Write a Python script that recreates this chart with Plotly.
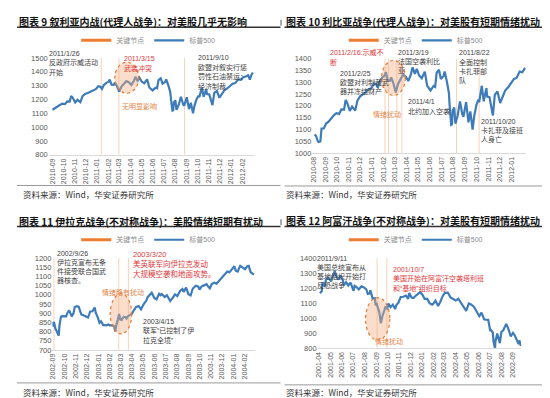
import plotly.graph_objects as go

# ---------------- data ----------------
# S&P 500 2010-2012 (read from panels 9 and 10)
spx_a_dates = ["2010-08-16","2010-08-20","2010-08-24","2010-08-26","2010-08-31","2010-09-03","2010-09-09","2010-09-13",
 "2010-09-15","2010-09-22","2010-09-28","2010-10-05","2010-10-12","2010-10-19","2010-10-25","2010-11-01","2010-11-05",
 "2010-11-09","2010-11-16","2010-11-22","2010-11-30","2010-12-06","2010-12-13","2010-12-20","2010-12-27","2011-01-04",
 "2011-01-11","2011-01-18","2011-01-24","2011-01-28","2011-02-02","2011-02-09","2011-02-15","2011-02-18","2011-02-23",
 "2011-03-01","2011-03-04","2011-03-10","2011-03-16","2011-03-22","2011-03-28","2011-04-04","2011-04-11","2011-04-18",
 "2011-04-25","2011-04-29","2011-05-05","2011-05-10","2011-05-16","2011-05-23","2011-05-31","2011-06-06","2011-06-15",
 "2011-06-20","2011-06-23","2011-06-27","2011-07-01","2011-07-07","2011-07-12","2011-07-19","2011-07-22","2011-07-28",
 "2011-08-02","2011-08-04","2011-08-08","2011-08-10","2011-08-12","2011-08-16","2011-08-19","2011-08-25","2011-08-31",
 "2011-09-06","2011-09-09","2011-09-16","2011-09-22","2011-09-27","2011-10-03","2011-10-07","2011-10-13","2011-10-18",
 "2011-10-20","2011-10-27","2011-11-01","2011-11-08","2011-11-10","2011-11-16","2011-11-25","2011-11-30","2011-12-07",
 "2011-12-14","2011-12-20","2011-12-27","2012-01-05","2012-01-12","2012-01-19","2012-01-26","2012-02-03","2012-02-10",
 "2012-02-17","2012-02-24","2012-03-01","2012-03-06","2012-03-09","2012-03-14"]
spx_a_vals = [1079,1071,1051,1047,1049,1104,1104,1122,
 1125,1134,1147,1160,1169,1166,1185,1184,1225,
 1213,1178,1197,1180,1223,1240,1247,1257,1270,
 1274,1295,1291,1276,1304,1320,1328,1343,1307,
 1306,1321,1295,1257,1293,1310,1332,1324,1305,
 1335,1363,1335,1357,1329,1317,1345,1286,1265,
 1278,1284,1280,1340,1353,1314,1327,1345,1300,
 1254,1200,1119,1121,1179,1193,1124,1160,1219,
 1165,1154,1216,1130,1176,1099,1155,1204,1226,
 1215,1285,1219,1275,1239,1237,1159,1247,1261,
 1212,1241,1265,1281,1295,1314,1318,1345,1342,
 1361,1366,1374,1343,1371,1395]

spx_b_dates = ["2001-04-11","2001-04-16","2001-04-18","2001-04-24","2001-04-27","2001-05-02","2001-05-08","2001-05-11",
 "2001-05-16","2001-05-21","2001-05-25","2001-05-31","2001-06-05","2001-06-11","2001-06-14","2001-06-20","2001-06-26",
 "2001-07-02","2001-07-10","2001-07-13","2001-07-18","2001-07-24","2001-07-31","2001-08-07","2001-08-13","2001-08-17",
 "2001-08-22","2001-08-24","2001-08-30","2001-09-05","2001-09-07","2001-09-10","2001-09-17","2001-09-21","2001-09-25",
 "2001-09-28","2001-10-03","2001-10-08","2001-10-11","2001-10-17","2001-10-23","2001-10-29","2001-11-01","2001-11-07",
 "2001-11-13","2001-11-20","2001-11-27","2001-12-03","2001-12-06","2001-12-12","2001-12-17","2001-12-21","2001-12-28",
 "2002-01-04","2002-01-10","2002-01-16","2002-01-23","2002-01-29","2002-02-05","2002-02-08","2002-02-14","2002-02-21",
 "2002-02-27","2002-03-05","2002-03-11","2002-03-19","2002-03-26","2002-04-02","2002-04-09","2002-04-16","2002-04-23",
 "2002-04-30","2002-05-07","2002-05-14","2002-05-20","2002-05-28","2002-06-04","2002-06-11","2002-06-17","2002-06-24",
 "2002-06-28","2002-07-05","2002-07-10","2002-07-12","2002-07-17","2002-07-19","2002-07-23","2002-07-24","2002-07-29",
 "2002-08-02","2002-08-05","2002-08-09","2002-08-14","2002-08-22","2002-08-27","2002-09-03","2002-09-09","2002-09-13",
 "2002-09-20","2002-09-24","2002-09-26","2002-09-30","2002-10-04","2002-10-09","2002-10-11","2002-10-15","2002-10-18",
 "2002-10-24","2002-10-29","2002-11-01","2002-11-06","2002-11-13","2002-11-18","2002-11-21","2002-11-27","2002-12-02",
 "2002-12-09","2002-12-13","2002-12-19","2002-12-27","2003-01-02","2003-01-08","2003-01-14","2003-01-17","2003-01-22",
 "2003-01-27","2003-01-31","2003-02-06","2003-02-10","2003-02-14","2003-02-20","2003-02-24","2003-03-03","2003-03-07",
 "2003-03-11","2003-03-13","2003-03-17","2003-03-21","2003-03-24","2003-03-28","2003-04-02","2003-04-07","2003-04-10",
 "2003-04-15","2003-04-21","2003-04-25","2003-04-30","2003-05-06","2003-05-13","2003-05-19","2003-05-27","2003-06-02",
 "2003-06-06","2003-06-12","2003-06-17","2003-06-24","2003-06-30","2003-07-07","2003-07-11","2003-07-14","2003-07-22",
 "2003-07-28","2003-08-01","2003-08-06","2003-08-13","2003-08-19","2003-08-25","2003-09-02","2003-09-08","2003-09-11",
 "2003-09-18","2003-09-24","2003-09-30","2003-10-06","2003-10-14","2003-10-21","2003-10-24","2003-10-30","2003-11-05",
 "2003-11-12","2003-11-17","2003-11-21","2003-11-26","2003-12-03","2003-12-09","2003-12-16","2003-12-22","2003-12-31",
 "2004-01-07","2004-01-13","2004-01-20","2004-01-26","2004-01-30","2004-02-04","2004-02-11","2004-02-18","2004-02-24",
 "2004-03-01","2004-03-05","2004-03-10","2004-03-16","2004-03-19"]
spx_b_vals = [1166,1179,1238,1210,1254,1268,1256,1245,
 1284,1312,1278,1256,1284,1255,1220,1240,1217,
 1236,1182,1215,1207,1191,1211,1204,1192,1161,
 1165,1185,1130,1132,1085,1093,1039,966,1013,
 1041,1072,1063,1097,1073,1090,1060,1085,1103,
 1140,1142,1150,1129,1167,1137,1134,1144,1162,
 1173,1156,1128,1128,1100,1090,1096,1116,1081,
 1109,1146,1168,1170,1138,1127,1117,1129,1100,
 1077,1049,1098,1091,1074,1040,1013,1037,992,
 990,989,920,921,906,847,797,843,898,
 865,834,908,919,962,934,878,902,889,
 850,828,852,815,800,777,835,881,884,
 882,882,900,915,882,900,933,938,934,
 892,890,883,876,909,910,931,901,878,
 848,856,835,835,834,838,833,835,829,
 800,832,862,895,865,863,880,879,871,
 885,892,898,917,934,939,921,951,967,
 987,998,1011,983,975,1005,998,1004,988,
 997,980,966,984,1002,993,1022,1031,1016,
 1039,1003,996,1034,1049,1044,1028,1046,1051,
 1058,1043,1035,1058,1065,1060,1076,1092,1112,
 1126,1122,1139,1155,1131,1126,1157,1147,1139,
 1155,1157,1123,1110,1109]

# data windows shown in each panel
p1_window = ("2010-09-15", "2012-03-14")
p2_window = ("2010-08-16", "2012-02-17")
p3_window = ("2002-09-20", "2004-03-19")
p4_window = ("2001-04-11", "2002-09-30")

# key nodes (关键节点)
p1_nodes = ["2011-01-26", "2011-03-15", "2011-09-10"]
p2_nodes = ["2011-02-16", "2011-02-25", "2011-03-19", "2011-04-01", "2011-08-22", "2011-10-20"]
p3_nodes = ["2002-09-26", "2003-03-20", "2003-04-15"]
p4_nodes = ["2001-09-11", "2001-10-07"]

# tick labels
p1_ticks = ["2010-09","2010-10","2010-11","2010-12","2011-01","2011-02","2011-03","2011-04","2011-05",
            "2011-06","2011-07","2011-08","2011-09","2011-10","2011-11","2011-12","2012-01","2012-02"]
p2_ticks = ["2010-08","2010-09","2010-10","2010-11","2010-12","2011-01","2011-02","2011-03","2011-04",
            "2011-05","2011-06","2011-07","2011-08","2011-09","2011-10","2011-11","2011-12","2012-01"]
p3_ticks = ["2002-09","2002-10","2002-11","2002-12","2003-01","2003-02","2003-03","2003-04","2003-05",
            "2003-06","2003-07","2003-08","2003-09","2003-10","2003-11","2003-12","2004-01","2004-02"]
p4_ticks = ["2001-04","2001-05","2001-06","2001-07","2001-08","2001-09","2001-10","2001-11","2001-12",
            "2002-01","2002-02","2002-03","2002-04","2002-05","2002-06","2002-07","2002-08","2002-09"]

titles = ["图表 9 叙利亚内战(代理人战争)：对美股几乎无影响",
          "图表 10 利比亚战争(代理人战争)：对美股有短期情绪扰动",
          "图表 11 伊拉克战争(不对称战争)：美股情绪短期有扰动",
          "图表 12 阿富汗战争(不对称战争)：对美股有短期情绪扰动"]
source_text = "资料来源：Wind，华安证券研究所"

# ---------------- style / layout ----------------
W, H = 550, 398
FONT = "Liberation Sans, Noto Sans CJK SC, sans-serif"
CJK = "Noto Sans CJK SC, sans-serif"
BLUE = "#3E7CB9"
ORANGE = "#ED7D31"
NODE = "#F9D2B6"
RED = "#E0383A"
OTXT = "#E38346"
DARK = "#404040"

def fx(x): return x / W
def fy(y): return 1 - y / H

panels = [
    dict(series="a", window=p1_window, nodes=p1_nodes, ticks=p1_ticks, day="15",
         xpx=(38, 245), ypx=(47, 146), xr=("2010-09-05", "2012-03-19"), yr=(800, 1500), dt=100,
         ell=("2011-03-04", "2011-05-08", 1245, 1469), legend=(138, 29)),
    dict(series="a", window=p2_window, nodes=p2_nodes, ticks=p2_ticks, day="13",
         xpx=(303, 518), ypx=(47.7, 144.3), xr=("2010-08-10", "2012-02-20"), yr=(1000, 1400), dt=50,
         ell=("2011-02-07", "2011-04-10", 1244, 1392), legend=(407, 29)),
    dict(series="b", window=p3_window, nodes=p3_nodes, ticks=p3_ticks, day="24",
         xpx=(41.7, 245), ypx=(251.7, 345.7), xr=("2002-09-22", "2004-03-21"), yr=(700, 1200), dt=50,
         ell=("2003-02-25", "2003-04-24", 787, 1005), legend=(138, 233)),
    dict(series="b", window=p4_window, nodes=p4_nodes, ticks=p4_ticks, day="09",
         xpx=(308.3, 513), ypx=(251.7, 344), xr=("2001-04-05", "2002-10-01"), yr=(800, 1400), dt=100,
         ell=("2001-08-11", "2001-10-15", 854, 1136), legend=(407, 233)),
]

fig = go.Figure()
layout = dict(width=W, height=H, margin=dict(l=0, r=0, t=0, b=0),
              paper_bgcolor="white", plot_bgcolor="white", showlegend=True)
shapes, annotations = [], []

for i, p in enumerate(panels):
    n = "" if i == 0 else str(i + 1)
    xa, ya = "x" + n, "y" + n
    lg = "legend" + n
    d_all, v_all = (spx_a_dates, spx_a_vals) if p["series"] == "a" else (spx_b_dates, spx_b_vals)
    ds, vs = [], []
    for d, v in zip(d_all, v_all):
        if p["window"][0] <= d <= p["window"][1]:
            ds.append(d); vs.append(v)
    # key node vertical lines
    nx, ny = [], []
    for d in p["nodes"]:
        nx += [d, d, None]; ny += [p["yr"][0], p["yr"][1], None]
    fig.add_trace(go.Scatter(x=nx, y=ny, mode="lines", line=dict(color=NODE, width=1),
                             xaxis=xa, yaxis=ya, showlegend=False, hoverinfo="skip"))
    # legend entry for key nodes
    fig.add_trace(go.Scatter(x=[None], y=[None], mode="lines", name="关键节点",
                             line=dict(color=ORANGE, width=3), xaxis=xa, yaxis=ya, legend=lg))
    fig.add_trace(go.Scatter(x=ds, y=vs, mode="lines", name="标普500",
                             line=dict(color=BLUE, width=2.2), xaxis=xa, yaxis=ya, legend=lg))
    layout["xaxis" + n] = dict(domain=[fx(p["xpx"][0]), fx(p["xpx"][1])], range=list(p["xr"]), type="date",
                               anchor=ya, tickvals=[t + "-" + p["day"] for t in p["ticks"]], ticktext=p["ticks"],
                               tickangle=-90, tickfont=dict(size=7, color="#595959", family=FONT),
                               showline=True, linecolor="#D9D9D9", linewidth=1, showgrid=False,
                               zeroline=False, ticks="")
    layout["yaxis" + n] = dict(domain=[fy(p["ypx"][1]), fy(p["ypx"][0])], range=list(p["yr"]), dtick=p["dt"],
                               anchor=xa, tickfont=dict(size=7.5, color="#595959", family=FONT),
                               showline=False, showgrid=False, zeroline=False, ticks="")
    layout[lg] = dict(orientation="h", x=fx(p["legend"][0]), y=fy(p["legend"][1]), xanchor="center",
                      yanchor="middle", font=dict(size=7, color="#8C8C8C", family=FONT),
                      bgcolor="rgba(0,0,0,0)", itemwidth=30, traceorder="normal")
    e = p["ell"]
    shapes.append(dict(type="circle", xref=xa, yref=ya, x0=e[0], x1=e[1], y0=e[2], y1=e[3],
                       line=dict(color="#E07B39", width=1.2, dash="dot"),
                       fillcolor="rgba(244,177,131,0.42)", layer="above"))

# titles, rules, sources
title_pos = [(7, 10), (276, 10), (7, 214), (276, 213.5)]
rule_y = [(15.5, 177.5), (15.5, 178), (219.5, 379.5), (219.5, 381.5)]
rule_x = [(6, 271), (275, 543), (6, 271), (275, 543)]
src_pos = [(11.5, 186.5), (276, 186.7), (11.5, 388.5), (276, 389)]
for i in range(4):
    annotations.append(dict(text=titles[i], x=fx(title_pos[i][0]), y=fy(title_pos[i][1]), xref="paper",
                            yref="paper", xanchor="left", yanchor="middle", showarrow=False, borderpad=0,
                            font=dict(size=10, color="#111111", family=CJK, weight=700)))
    shapes.append(dict(type="line", xref="paper", yref="paper", x0=fx(rule_x[i][0]), x1=fx(rule_x[i][1]),
                       y0=fy(rule_y[i][0]), y1=fy(rule_y[i][0]), line=dict(color="#333333", width=1.5)))
    shapes.append(dict(type="line", xref="paper", yref="paper", x0=fx(rule_x[i][0]), x1=fx(rule_x[i][1]),
                       y0=fy(rule_y[i][1]), y1=fy(rule_y[i][1]), line=dict(color="#9A9A9A", width=1)))
    annotations.append(dict(text=source_text, x=fx(src_pos[i][0]), y=fy(src_pos[i][1]), xref="paper",
                            yref="paper", xanchor="left", yanchor="middle", showarrow=False, borderpad=0,
                            font=dict(size=8.5, color="#333333", family=CJK)))

def block(lines, x, y0, color, dy=9.6, size=7):
    for k, t in enumerate(lines):
        annotations.append(dict(text=t, x=fx(x), y=fy(y0 + k * dy), xref="paper", yref="paper",
                                xanchor="left", yanchor="middle", showarrow=False, borderpad=0,
                                font=dict(size=size, color=color, family=FONT)))

# panel 9
block(["2011/1/26", "反政府示威活动", "开始"], 37.7, 42.5, DARK)
block(["2011/3/15", "武装冲突"], 113, 48, RED)
block(["无明显影响"], 111, 97, OTXT)
block(["2011/9/10", "欧盟对叙实行惩", "罚性石油禁运；", "经济制裁"], 187, 46.5, DARK, dy=9.9)
# panel 10
block(["2011/2/16:示威不", "断"], 320, 41.7, RED, dy=10)
block(["2011/2/25", "欧盟对利制裁武", "器并冻结财产"], 330, 63.3, DARK, dy=8.8)
block(["2011/3/19", "法国空袭利比", "亚"], 388, 41.7, DARK, dy=9.2)
block(["情绪扰动"], 363, 105, OTXT)
block(["2011/4/1", "北约加入空袭"], 398, 92, DARK, dy=10)
block(["2011/8/22", "全面控制", "卡扎菲部", "队"], 449, 41.7, DARK, dy=9.6)
block(["2011/10/20", "卡扎菲及接班", "人身亡"], 472, 111.7, DARK, dy=9.5)
# panel 11
block(["2002/9/26", "伊拉克宣布无条", "件接受联合国武", "器核查。"], 45, 246.7, DARK, dy=9.4)
block(["2003/3/20", "美英联军向伊拉克发动", "大规模空袭和地面攻势。"], 121.7, 248.3, RED, dy=9.7, size=7.5)
block(["情绪略有扰动"], 90, 287.3, OTXT)
block(["2003/4/15", "联军“已控制了伊", "拉克全境”"], 131.7, 316.7, DARK, dy=9.5)
# panel 12
block(["2011/9/11", "美国总统宣布从", "基地组织开始打", "反恐战争"], 306.7, 251.7, DARK, dy=9.4)
block(["2001/10/7", "美国开始在阿富汗空袭塔利班", "和“基地”组织目标"], 383.3, 263.3, RED, dy=9.7)
block(["情绪扰动"], 365, 337.3, OTXT)

# small frame marks at right of left titles
for yy in (8, 212):
    shapes.append(dict(type="line", xref="paper", yref="paper", x0=fx(271.5), x1=fx(271.5),
                       y0=fy(yy), y1=fy(yy + 6), line=dict(color="#555555", width=1)))

layout["shapes"] = shapes
layout["annotations"] = annotations
fig.update_layout(**layout)
fig.write_html("out.html")
